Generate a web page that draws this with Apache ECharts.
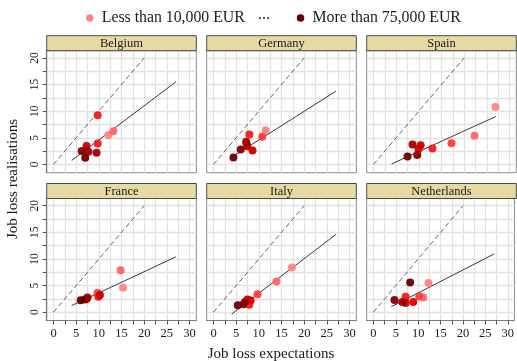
<!DOCTYPE html>
<html>
<head>
<meta charset="utf-8">
<script src="https://cdn.jsdelivr.net/npm/echarts@6/dist/echarts.min.js"></script>
<style>
  html, body { margin: 0; padding: 0; background: #ffffff; }
  #chart { width: 517px; height: 361px; }
</style>
</head>
<body>
<div id="chart"></div>
<script>
// Panels, in reading order
const countries = ['Belgium', 'Germany', 'Spain', 'France', 'Italy', 'Netherlands'];

// Each point: [job loss expectation, job loss realisation, income group 0 (lowest) .. 8 (highest)]
const belgium = [[12.1, 5.5, 0], [13.2, 6.25, 1], [9.75, 9.25, 3], [9.75, 3.95, 3], [9.5, 2.2, 6],
                 [7.3, 3.45, 5], [7.7, 2.4, 6], [6.2, 2.5, 7], [7.0, 1.25, 8]];
const germany = [[11.5, 6.4, 0], [10.75, 5.2, 2], [7.9, 5.6, 3], [7.3, 3.9, 4], [8.6, 2.6, 5],
                 [7.45, 3.4, 5], [7.2, 4.25, 6], [6.0, 2.8, 7], [4.4, 1.3, 8]];
const spain = [[26.9, 10.8, 0], [22.3, 5.4, 1], [17.2, 4.0, 2], [13.0, 3.0, 3], [9.9, 2.9, 4],
               [10.4, 3.6, 5], [8.6, 3.75, 6], [9.65, 1.75, 7], [7.5, 1.5, 8]];
const france = [[15.35, 4.6, 0], [14.8, 7.9, 1], [9.7, 3.6, 2], [9.9, 2.9, 3], [7.3, 2.5, 4],
                [10.25, 3.25, 5], [7.5, 2.75, 6], [6.95, 2.4, 7], [6.0, 2.25, 8]];
const italy = [[17.3, 8.4, 0], [13.9, 5.75, 1], [9.7, 3.4, 2], [7.9, 1.4, 3], [8.2, 2.2, 4],
               [7.5, 2.4, 5], [6.95, 1.9, 6], [6.6, 1.5, 7], [5.35, 1.3, 8]];
const netherlands = [[12.3, 5.5, 0], [11.1, 2.75, 1], [10.25, 3.0, 2], [7.2, 2.9, 3], [8.9, 1.9, 4],
                     [7.2, 1.75, 5], [6.45, 1.9, 6], [4.7, 2.3, 7], [8.2, 5.6, 8]];
const panelPoints = [belgium, germany, spain, france, italy, netherlands];

// Fitted line per country, evaluated at the ends of its drawn span
const fitFromX = 4;
const fitToX = 27;
const fitFromY = [0.75, 1.35, 0.1, 1.25, -0.35, 1.05];
const fitToY = [15.5, 13.75, 9.0, 10.4, 14.6, 10.95];

// 45-degree reference line
const diagonal = [[0, 0], [20, 20]];

// Axis ticks and labels
const xTicks = [0, 2.5, 5, 7.5, 10, 12.5, 15, 17.5, 20, 22.5, 25, 27.5, 30];
const xLabels = [0, 5, 10, 15, 20, 25, 30];
const yTicks = [0, 2.5, 5, 7.5, 10, 12.5, 15, 17.5, 20];
const yLabels = [0, 5, 10, 15, 20];

// Income colour ramp: light pink for the lowest group, dark red for the highest
const incomeColors = ['#ff8585', '#ff6666', '#ff3d3d', '#f41a1a', '#e00000',
                      '#c40000', '#a50000', '#870000', '#690000'];
const legendNames = ['Less than 10,000 EUR', 'More than 75,000 EUR'];

const FONT = '"Liberation Serif", "Times New Roman", serif';

// Panel geometry
const colLeft = [46.7, 206.7, 366.7];
const panelW = 149.6;
const rowTop = [50.7, 198.5];
const panelH = 122;
const stripH = 15;

const chart = echarts.init(document.getElementById('chart'), null, { renderer: 'canvas' });

const grids = [], xAxes = [], yAxes = [], series = [], graphics = [];

countries.forEach((name, i) => {
  const r = Math.floor(i / 3), c = i % 3;
  const left = colLeft[c], top = rowTop[r];
  grids.push({ left: left, top: top, width: panelW, height: panelH,
               show: true, backgroundColor: '#ffffff', borderColor: '#8a8a8a', borderWidth: 1 });

  xAxes.push({
    gridIndex: i, type: 'value', min: -1.5, max: 31.5,
    axisLine: { show: r === 1, onZero: false, lineStyle: { color: '#7a7a7a', width: 1.2 } },
    axisTick: { show: r === 1, customValues: xTicks, length: 4, lineStyle: { color: '#555555' } },
    axisLabel: { show: r === 1, customValues: xLabels, margin: 7,
                 fontFamily: FONT, fontSize: 12.5, color: '#1a1a1a' },
    splitLine: { show: true, lineStyle: { color: '#e2e2e2', width: 1.3 } }
  });

  yAxes.push({
    gridIndex: i, type: 'value', min: -1.55, max: 21.35,
    axisLine: { show: c === 0, onZero: false, lineStyle: { color: '#7a7a7a', width: 1.2 } },
    axisTick: { show: c === 0, customValues: yTicks, length: 4, lineStyle: { color: '#555555' } },
    axisLabel: { show: c === 0, customValues: yLabels, rotate: 90, margin: 6,
                 fontFamily: FONT, fontSize: 11.5, color: '#1a1a1a' },
    splitLine: { show: true, lineStyle: { color: '#e2e2e2', width: 1.3 } }
  });

  series.push({
    type: 'line', xAxisIndex: i, yAxisIndex: i, data: diagonal,
    symbol: 'none', silent: true, z: 2,
    lineStyle: { color: '#666666', width: 1, type: [5, 3] }
  });
  series.push({
    type: 'line', xAxisIndex: i, yAxisIndex: i,
    data: [[fitFromX, fitFromY[i]], [fitToX, fitToY[i]]],
    symbol: 'none', silent: true, z: 2,
    lineStyle: { color: '#3a3a3a', width: 1 }
  });
  series.push({
    type: 'scatter', xAxisIndex: i, yAxisIndex: i,
    data: panelPoints[i], symbolSize: 8, z: 3,
    itemStyle: { color: p => incomeColors[p.value[2]], opacity: 0.95 }
  });

  // Facet strip above the panel
  graphics.push({
    type: 'rect', shape: { x: left, y: top - stripH, width: panelW, height: stripH },
    style: { fill: '#e5d9a4', stroke: '#4a4a4a', lineWidth: 1 }, z: 10
  });
  graphics.push({
    type: 'text', z: 11,
    style: { text: name, x: left + panelW / 2, y: top - stripH / 2 + 0.5,
             textAlign: 'center', textVerticalAlign: 'middle',
             font: '12.5px ' + FONT, fill: '#1a1a1a' }
  });
});

// Legend entries (empty series carry the end colours of the ramp)
series.push({ name: legendNames[0], type: 'scatter', data: [], itemStyle: { color: incomeColors[0], opacity: 1 } });
series.push({ name: legendNames[1], type: 'scatter', data: [], itemStyle: { color: '#5e0000', opacity: 1 } });

// Ellipsis between the two legend entries, and the shared axis titles
graphics.push({
  type: 'text', z: 11,
  style: { text: '...', x: 264, y: 15, textAlign: 'center', textVerticalAlign: 'middle',
           font: '16px ' + FONT, fill: '#1a1a1a' }
});
graphics.push({
  type: 'text', z: 11,
  style: { text: 'Job loss expectations', x: 271, y: 354, textAlign: 'center', textVerticalAlign: 'middle',
           font: '15px ' + FONT, fill: '#1a1a1a' }
});
graphics.push({
  type: 'text', z: 11, x: 13, y: 179, rotation: Math.PI / 2,
  style: { text: 'Job loss realisations', x: 0, y: 0, textAlign: 'center', textVerticalAlign: 'middle',
           font: '15px ' + FONT, fill: '#1a1a1a' }
});

chart.setOption({
  animation: false,
  backgroundColor: '#ffffff',
  legend: {
    data: legendNames.map(n => ({ name: n, icon: 'circle' })),
    left: 81, top: 4, itemWidth: 14, itemHeight: 7.5, itemGap: 52,
    selectedMode: false,
    textStyle: { fontFamily: FONT, fontSize: 15.8, color: '#1a1a1a', lineHeight: 18 }
  },
  grid: grids,
  xAxis: xAxes,
  yAxis: yAxes,
  series: series,
  graphic: graphics
});
</script>
</body>
</html>
